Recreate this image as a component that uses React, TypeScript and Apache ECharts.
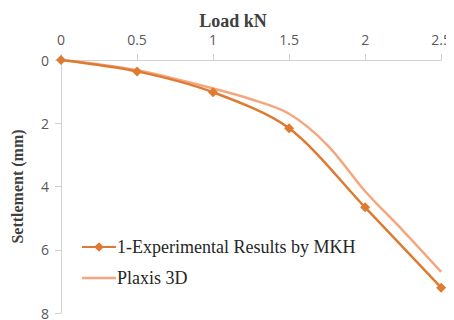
import React, { useEffect, useRef } from "react";
import * as echarts from "echarts";

const loads = [0, 0.5, 1, 1.5, 2, 2.5];
const experimental = [0, 0.36, 1.02, 2.16, 4.66, 7.2];
const plaxisLoads = [0, 0.5, 1, 1.25, 1.5, 1.75, 2, 2.25, 2.5];
const plaxis = [0, 0.32, 0.9, 1.24, 1.7, 2.68, 4.15, 5.4, 6.7];
const yTicks = [0, 2, 4, 6, 8];

export default function App() {
  const ref = useRef<HTMLDivElement>(null);
  useEffect(() => {
    const chart = echarts.init(ref.current!, null, { renderer: "svg" });
    const axisLabel = { color: "#595959", fontFamily: "Open Sans", fontSize: 14 };
    chart.setOption({
      animation: false,
      backgroundColor: "#ffffff",
      grid: { left: 61, right: 11, top: 60, bottom: 3 },
      graphic: [
        {
          type: "text",
          x: 233,
          y: 21,
          style: {
            text: "Load kN",
            font: "bold 18px 'Liberation Serif'",
            fill: "#404040",
            textAlign: "center",
            textVerticalAlign: "middle",
          },
        },
      ],
      xAxis: {
        type: "value",
        position: "top",
        min: 0,
        max: 2.5,
        interval: 0.5,
        axisLine: { show: true, onZero: false, lineStyle: { color: "#d0d0d0", width: 1 } },
        axisTick: { show: true, length: 6, lineStyle: { color: "#d0d0d0" } },
        splitLine: { show: false },
        axisLabel: { ...axisLabel, margin: 14 },
      },
      yAxis: {
        type: "value",
        inverse: true,
        min: yTicks[0],
        max: yTicks[yTicks.length - 1],
        interval: 2,
        name: "Settlement (mm)",
        nameLocation: "middle",
        nameGap: 36,
        nameTextStyle: {
          fontFamily: "Liberation Serif",
          fontWeight: "bold",
          fontSize: 16,
          color: "#404040",
        },
        axisLine: { show: true, onZero: false, lineStyle: { color: "#d0d0d0", width: 1 } },
        axisTick: { show: true, length: 6, lineStyle: { color: "#d0d0d0" } },
        splitLine: { show: false },
        axisLabel: { ...axisLabel, margin: 12 },
      },
      legend: {
        orient: "vertical",
        left: 76,
        top: 233,
        itemWidth: 34,
        itemHeight: 12,
        itemGap: 13,
        textStyle: { fontFamily: "Liberation Serif", fontSize: 18, color: "#262626", padding: [0, 0, 0, -4] },
        data: [
          { name: "1-Experimental Results by MKH" },
          { name: "Plaxis 3D", icon: "path://M0,0L34,0L34,2.5L0,2.5Z" },
        ],
      },
      series: [
        {
          name: "Plaxis 3D",
          type: "line",
          smooth: 0.35,
          symbol: "none",
          color: "#F6A67E",
          lineStyle: { width: 2.5, color: "#F6A67E" },
          data: plaxisLoads.map((x, i) => [x, plaxis[i]]),
          z: 2,
        },
        {
          name: "1-Experimental Results by MKH",
          type: "line",
          smooth: 0.3,
          symbol: "diamond",
          symbolSize: 10,
          color: "#DE7B30",
          lineStyle: { width: 2.5, color: "#DE7B30" },
          itemStyle: { color: "#DE7B30" },
          data: loads.map((x, i) => [x, experimental[i]]),
          z: 3,
        },
      ],
    });
    return () => chart.dispose();
  }, []);
  return <div ref={ref} style={{ width: 454, height: 320, marginLeft: -8, marginTop: -8 }} />;
}
